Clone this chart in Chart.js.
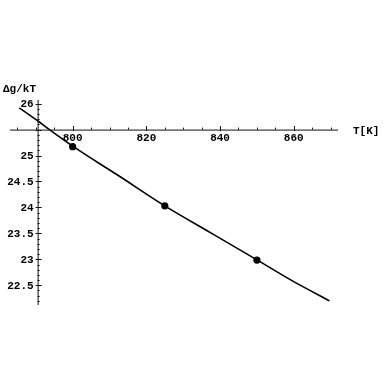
<!DOCTYPE html>
<html>
<head>
<meta charset="utf-8">
<script src="https://cdn.jsdelivr.net/npm/chart.js@4"></script>
<style>
  html, body { margin: 0; padding: 0; background: #fff; }
  #wrap { width: 384px; height: 384px; }
</style>
</head>
<body>
<div id="wrap"><canvas id="plot" width="384" height="384"></canvas></div>
<script>
// fitted curve
const fitT = [785.5, 790.5, 793.5, 800, 812.5, 825, 837.5, 850, 860, 869.7];
const fitY = [25.92, 25.67, 25.51, 25.18, 24.61, 24.03, 23.51, 22.99, 22.57, 22.20];
// measured points
const dataT = [800, 825, 850];
const dataY = [25.17, 24.03, 22.985];
// tick labels
const xTicks = [800, 820, 840, 860];
const yTicks = [22.5, 23, 23.5, 24, 24.5, 25, 26];
const xCross = 790.5;  // where the y axis sits
const yCross = 25.5;   // where the x axis sits
const yTitle = 'Δg/kT';
const xTitle = 'T[K]';

const FONT = 'bold 11px "Liberation Mono", "DejaVu Sans Mono", monospace';

// Mathematica-style axes crossing inside the plot
const axesPlugin = {
    id: 'crossAxes',
    afterDatasetsDraw(chart) {
        const ctx = chart.ctx;
        const xs = chart.scales.x, ys = chart.scales.y;
        const a = chart.chartArea;
        const x0 = xs.getPixelForValue(xCross);
        const y0 = ys.getPixelForValue(yCross);
        ctx.save();
        ctx.strokeStyle = '#111';
        ctx.lineWidth = 1;
        ctx.beginPath();
        ctx.moveTo(a.left, y0 + 0.5); ctx.lineTo(a.right, y0 + 0.5);
        ctx.moveTo(x0 + 0.5, a.top); ctx.lineTo(x0 + 0.5, a.bottom);
        // minor ticks on x, every 5
        for (let t = 785; t <= 870; t += 5) {
            const px = Math.round(xs.getPixelForValue(t)) + 0.5;
            const len = xTicks.includes(t) ? 3.5 : 2;
            ctx.moveTo(px, y0 - len); ctx.lineTo(px, y0 + (xTicks.includes(t) ? 1.5 : 0));
        }
        // minor ticks on y, every 0.1
        for (let k = 222; k <= 260; k++) {
            const v = k / 10;
            const py = Math.round(ys.getPixelForValue(v)) + 0.5;
            const major = k % 5 === 0;
            ctx.moveTo(x0 - (major ? 2 : 0), py); ctx.lineTo(x0 + (major ? 4 : 2), py);
        }
        ctx.stroke();

        ctx.fillStyle = '#000';
        ctx.font = FONT;
        ctx.textAlign = 'center';
        ctx.textBaseline = 'middle';
        xTicks.forEach(t => ctx.fillText(String(t), xs.getPixelForValue(t), y0 + 9));
        ctx.textAlign = 'right';
        yTicks.forEach(v => ctx.fillText(String(v), x0 - 4, ys.getPixelForValue(v) + 1));
        ctx.textAlign = 'left';
        ctx.fillText(yTitle, 3, a.top - 11);
        ctx.fillText(xTitle, a.right + 15, y0 + 2);
        ctx.restore();
    }
};

new Chart(document.getElementById('plot'), {
    type: 'scatter',
    data: {
        datasets: [
            {
                label: 'fit',
                data: fitT.map((t, i) => ({ x: t, y: fitY[i] })),
                showLine: true,
                borderColor: '#000',
                borderWidth: 1.6,
                pointRadius: 0,
                cubicInterpolationMode: 'monotone'
            },
            {
                label: 'data',
                data: dataT.map((t, i) => ({ x: t, y: dataY[i] })),
                showLine: false,
                pointStyle: 'circle',
                pointRadius: 3.6,
                backgroundColor: '#000',
                borderColor: '#000',
                borderWidth: 0
            }
        ]
    },
    options: {
        responsive: false,
        animation: false,
        layout: { padding: { left: 10, right: 46, top: 100, bottom: 79 } },
        plugins: { legend: { display: false }, tooltip: { enabled: false } },
        scales: {
            x: { type: 'linear', min: 783, max: 872, display: false },
            y: { type: 'linear', min: 22.12, max: 26.07, display: false }
        }
    },
    plugins: [axesPlugin]
});
</script>
</body>
</html>
